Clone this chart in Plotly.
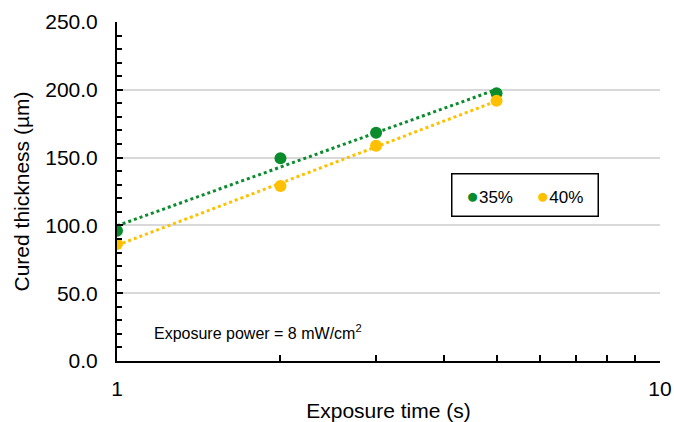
import numpy as np
import plotly.graph_objects as go

exposure_time = [1, 2, 3, 5]
thick_35 = [96.0, 149.5, 168.4, 197.4]
thick_40 = [86.3, 129.0, 158.8, 192.0]
series_names = ["35%", "40%"]
colors = ["#0a8c2d", "#ffc000"]

fig = go.Figure()
for name, vals, col in zip(series_names, [thick_35, thick_40], colors):
    a, b = np.polyfit(np.log(exposure_time), vals, 1)
    xs = np.array([min(exposure_time), max(exposure_time)], dtype=float)
    fig.add_trace(go.Scatter(x=xs, y=a * np.log(xs) + b, mode="lines",
                             line=dict(color=col, width=3, dash="dot"),
                             showlegend=False, hoverinfo="skip"))
for name, vals, col in zip(series_names, [thick_35, thick_40], colors):
    fig.add_trace(go.Scatter(x=exposure_time, y=vals, mode="markers", name=name,
                             marker=dict(color=col, size=12), showlegend=False))

# legend drawn as a boxed text block (dot glyph + label)
legend_text = "&nbsp;&nbsp;&nbsp;&nbsp;&nbsp;".join(
    f"<span style='color:{c};font-size:21px'>●</span>{n}" for n, c in zip(series_names, colors))

font = "Liberation Sans, Arial, sans-serif"
fig.update_layout(
    width=674, height=422,
    margin=dict(l=117, r=14, t=22, b=61, autoexpand=False),
    paper_bgcolor="white", plot_bgcolor="white",
    font=dict(family=font, color="black"),
    showlegend=False,
    xaxis=dict(type="log", range=[0, 1], automargin=False,
               tickvals=[1, 2, 3, 4, 5, 6, 7, 8, 9, 10],
               ticktext=["1", "", "", "", "", "", "", "", "", "10"],
               ticks="inside", ticklen=6, tickwidth=1.5, tickcolor="black",
               showline=True, linecolor="black", linewidth=2,
               showgrid=False, zeroline=False,
               tickfont=dict(size=21), ticklabelstandoff=8,
               title=dict(text="Exposure time (s)", font=dict(size=21), standoff=4)),
    yaxis=dict(range=[0, 250], dtick=50, tickformat=".1f", automargin=False,
               ticks="inside", ticklen=6, tickwidth=1.5, tickcolor="black",
               minor=dict(dtick=10, ticks="inside", ticklen=5, tickwidth=1.5, tickcolor="black",
                          showgrid=False),
               showline=True, linecolor="black", linewidth=2,
               showgrid=True, gridcolor="#d9d9d9", gridwidth=1.5, zeroline=False,
               tickfont=dict(size=21), ticklabelstandoff=13,
               title=dict(text="Cured thickness (µm)", font=dict(size=21), standoff=10)),
    annotations=[
        dict(text="Exposure power = 8 mW/cm<sup>2</sup>", x=(152 - 117) / 543, y=(361 - 332) / 338.5,
             xref="paper", yref="paper", xanchor="left", yanchor="middle",
             showarrow=False, font=dict(size=16)),
        dict(text="&nbsp;" + legend_text + "&nbsp;", x=0.7514, y=0.489,
             xref="paper", yref="paper", xanchor="center", yanchor="middle",
             showarrow=False, font=dict(size=17), bgcolor="white",
             bordercolor="black", borderwidth=1.5, borderpad=9),
    ],
)
fig.write_html("out.html", config={"displayModeBar": False},
               post_script="document.body.style.margin='0';")
